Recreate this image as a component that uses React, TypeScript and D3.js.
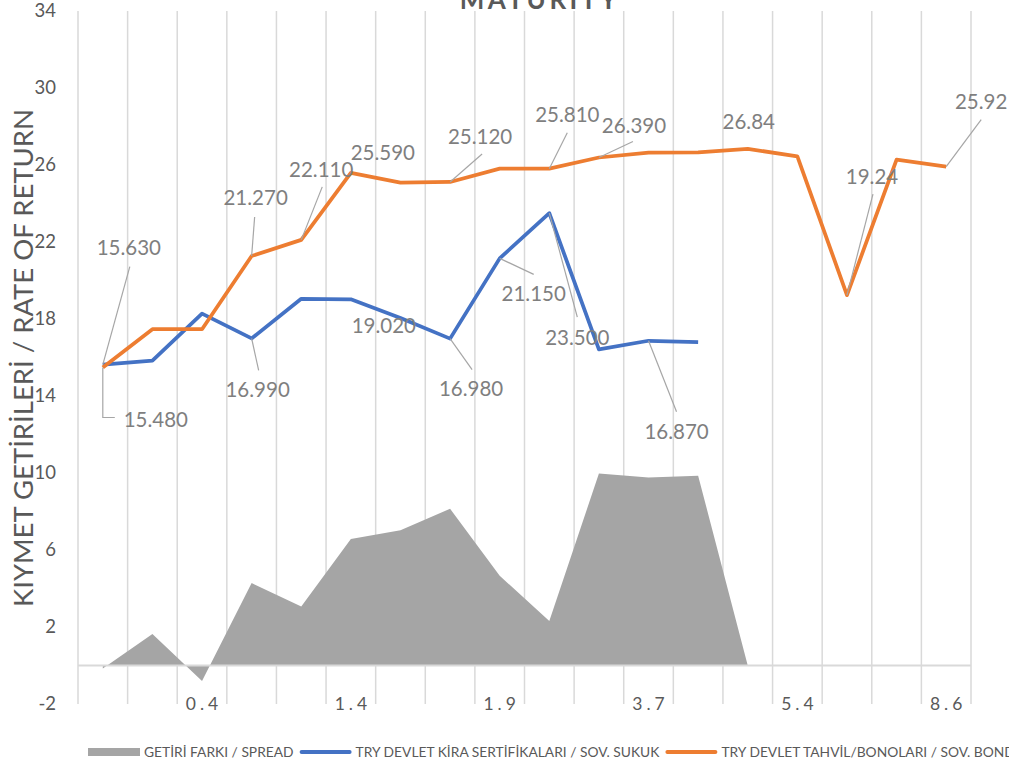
import React, { useEffect, useRef } from "react";
import * as d3 from "d3";

// maturity (years) - only every third category carries a label
const maturities = ["", "", "0.4", "", "", "1.4", "", "", "1.9", "", "", "3.7", "", "", "5.4", "", "", "8.6"];
// TRY government bonds / bills
const bondYields = [15.48, 17.47, 17.47, 21.27, 22.11, 25.59, 25.08, 25.12, 25.81, 25.81, 26.39, 26.64, 26.66, 26.84, 26.45, 19.24, 26.28, 25.92];
// TRY lease certificates (sukuk)
const sukukYields = [15.63, 15.84, 18.28, 16.99, 19.05, 19.02, 18.05, 16.98, 21.15, 23.5, 16.42, 16.87, 16.8];
// spread between the two
const spreadValues = [-0.15, 1.63, -0.81, 4.28, 3.06, 6.57, 7.03, 8.14, 4.66, 2.31, 9.97, 9.77, 9.86, 0];
const yTicks = [-2, 2, 6, 10, 14, 18, 22, 26, 30, 34];

const legendNames = ["GETİRİ FARKI / SPREAD", "TRY DEVLET KİRA SERTİFİKALARI / SOV. SUKUK", "TRY DEVLET TAHVİL/BONOLARI / SOV. BOND"];

// data label placement (offsets in px from the point), leader = polyline from the point
const labelSpecs = [
  { s: "sukuk", i: 0, dec: 3, dx: 26, dy: -117, leader: [[27, -98]] },
  { s: "bond", i: 0, dec: 3, dx: 53, dy: 52, leader: [[0, 50], [12, 50]] },
  { s: "sukuk", i: 3, dec: 3, dx: 6, dy: 51, leader: [[7, 32]] },
  { s: "bond", i: 3, dec: 3, dx: 4, dy: -58, leader: [[3, -39]] },
  { s: "bond", i: 4, dec: 3, dx: 20, dy: -70, leader: [[21, -53]] },
  { s: "bond", i: 5, dec: 3, dx: 32, dy: -20, leader: null },
  { s: "sukuk", i: 5, dec: 3, dx: 33, dy: 26, leader: null },
  { s: "bond", i: 7, dec: 3, dx: 30, dy: -45, leader: [[32, -28]] },
  { s: "sukuk", i: 7, dec: 3, dx: 21, dy: 50, leader: [[22, 31]] },
  { s: "sukuk", i: 8, dec: 3, dx: 34, dy: 35, leader: [[34, 16]] },
  { s: "sukuk", i: 9, dec: 3, dx: 28, dy: 125, leader: [[28, 104]] },
  { s: "bond", i: 9, dec: 3, dx: 18, dy: -54, leader: [[18, -36]] },
  { s: "bond", i: 10, dec: 3, dx: 35, dy: -32, leader: [[34, -16]] },
  { s: "sukuk", i: 11, dec: 3, dx: 28, dy: 91, leader: [[28, 71]] },
  { s: "bond", i: 13, dec: 2, dx: 1, dy: -27, leader: null },
  { s: "bond", i: 15, dec: 2, dx: 25, dy: -118, leader: [[26, -101]] },
  { s: "bond", i: 17, dec: 2, dx: 35, dy: -65, leader: [[35, -47]] },
];

const W = 1009, H = 765;
const FONT = "Lato, 'Open Sans', sans-serif";
const C_BOND = "#ED7D31", C_SUKUK = "#4472C4", C_SPREAD = "#A5A5A5";

function App() {
  const legendRef = useRef<SVGGElement>(null);

  const x = d3.scaleBand<number>().domain(d3.range(maturities.length)).range([78, 971]).padding(0);
  const y = d3.scaleLinear().domain([-2, 34]).range([704, 11]);
  const cx = (i: number) => (x(i) as number) + x.bandwidth() / 2;

  const area = d3.area<number>().x((d, i) => cx(i)).y0(y(0)).y1((d) => y(d));
  const line = d3.line<number>().x((d, i) => cx(i)).y((d) => y(d));

  const gridXs = d3.range(maturities.length + 1).map((i) => 78 + i * x.step());

  useEffect(() => {
    // lay legend entries out one after another, measuring the text
    const g = d3.select(legendRef.current);
    g.selectAll("*").remove();
    const colors = [C_SPREAD, C_SUKUK, C_BOND];
    let xpos = 88;
    legendNames.forEach((name, k) => {
      if (k === 0) {
        g.append("rect").attr("x", xpos).attr("y", 748).attr("width", 52).attr("height", 8).attr("fill", colors[k]);
      } else {
        g.append("line").attr("x1", xpos + 2).attr("x2", xpos + 50).attr("y1", 752).attr("y2", 752)
          .attr("stroke", colors[k]).attr("stroke-width", 4).attr("stroke-linecap", "round");
      }
      const t = g.append("text").attr("x", xpos + 56).attr("y", 752).attr("dy", "0.35em")
        .attr("font-size", 13.8).attr("fill", "#595959").attr("font-family", FONT).text(name);
      const len = (t.node() as SVGTextElement).getComputedTextLength();
      xpos += 56 + len + 6;
    });
  }, []);

  return (
    <svg width={W} height={H} style={{ position: "absolute", left: 0, top: 0, background: "#fff" }} fontFamily={FONT}>
      {/* vertical gridlines */}
      {gridXs.map((gx, k) => (
        <line key={k} x1={gx} x2={gx} y1={y(34)} y2={y(-2)} stroke="#D9D9D9" strokeWidth={1.5} />
      ))}

      <path d={area(spreadValues) || ""} fill={C_SPREAD} />
      <line x1={78} x2={971} y1={y(0)} y2={y(0)} stroke="#D9D9D9" strokeWidth={2} />

      <path d={line(sukukYields) || ""} fill="none" stroke={C_SUKUK} strokeWidth={3.75} strokeLinejoin="round" />
      <path d={line(bondYields) || ""} fill="none" stroke={C_BOND} strokeWidth={3.75} strokeLinejoin="round" />

      {/* y ticks */}
      {yTicks.map((t) => (
        <text key={t} x={56} y={y(t)} dy="0.35em" textAnchor="end" fontSize={18.5} fill="#595959">{t}</text>
      ))}
      {/* x ticks */}
      {maturities.map((m, i) => m ? (
        <text key={i} x={cx(i) + 2} y={y(-2)} dy="0.35em" textAnchor="middle" fontSize={17.5} letterSpacing={4} fill="#595959">{m}</text>
      ) : null)}

      {/* data labels */}
      {labelSpecs.map((l, k) => {
        const v = l.s === "bond" ? bondYields[l.i] : sukukYields[l.i];
        const px = cx(l.i), py = y(v);
        const pts = l.leader ? [[0, 0], ...l.leader].map(([a, b]) => `${px + a},${py + b}`).join(" ") : null;
        return (
          <g key={k}>
            {pts && <polyline points={pts} fill="none" stroke="#A6A6A6" strokeWidth={1.2} />}
            <text x={px + l.dx} y={py + l.dy} dy="0.35em" textAnchor="middle" fontSize={20.5} fill="#7F7F7F">{v.toFixed(l.dec)}</text>
          </g>
        );
      })}

      {/* axis title */}
      <text transform="translate(33,358) rotate(-90)" textAnchor="middle" fontSize={27.5} fill="#595959">
        KIYMET GETİRİLERİ / RATE OF RETURN
      </text>
      {/* chart title, cut by the top edge as in the source */}
      <text x={540} y={9} textAnchor="middle" fontSize={26} fontWeight="bold" letterSpacing={3.5} fill="#595959">MATURITY</text>

      <g ref={legendRef} />
    </svg>
  );
}

export default App;
